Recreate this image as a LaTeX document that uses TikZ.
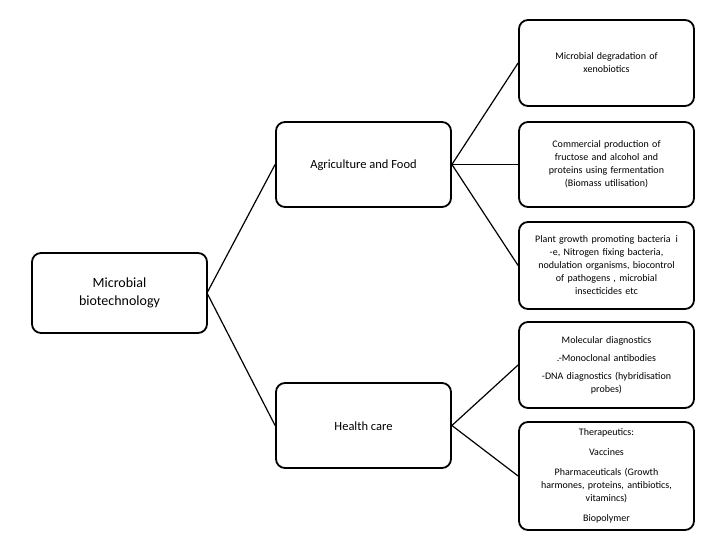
\documentclass[tikz,border=0pt]{standalone}
\usepackage{fontspec}
\setmainfont{Carlito}
\begin{document}
\begin{tikzpicture}[x=1pt,y=-1pt,
 bx/.style={draw,line width=1.8pt,rounded corners=9pt,minimum width=175pt,align=center,inner sep=3pt},
 sm/.style={font=\fontsize{10}{13}\selectfont,text width=165pt},
 ln/.style={line width=1.2pt}]
\path[use as bounding box] (0,0) rectangle (720,540);
\node[bx,minimum height=80pt,font=\fontsize{14}{18}\selectfont] (mb) at (119.5,293) {Microbial\\biotechnology};
\node[bx,minimum height=85pt] (ag) at (363.5,164.5) {};
\node[font=\fontsize{12.5}{15}\selectfont] (agt) at (363.5,165) {Agriculture and Food};
\node[bx,minimum height=85pt] (hc) at (363.5,425.5) {};
\node[font=\fontsize{12.5}{15}\selectfont] (hct) at (363.5,426) {Health care};
\node[bx,sm,minimum height=86pt] (r1) at (606.5,63) {Microbial degradation of\\xenobiotics};
\node[bx,sm,minimum height=85pt] (r2) at (606.5,164.5) {Commercial production of\\fructose and alcohol and\\proteins using fermentation\\(Biomass utilisation)};
\node[bx,sm,minimum height=87pt] (r3) at (606.5,265.5) {Plant growth promoting bacteria\enspace i\\-e, Nitrogen fixing bacteria,\\nodulation organisms, biocontrol\\of pathogens , microbial\\insecticides etc};
\node[bx,sm,minimum height=86pt,font=\fontsize{10}{18}\selectfont] (r4) at (606.5,365) {Molecular diagnostics\\.-Monoclonal antibodies\\-DNA diagnostics (hybridisation\\[-5pt]probes)};
\node[bx,sm,minimum height=108pt,font=\fontsize{10}{20}\selectfont] (r5) at (606.5,476) {Therapeutics:\\Vaccines\\Pharmaceuticals (Growth\\[-7pt]harmones, proteins, antibiotics,\\[-7pt]vitamincs)\\Biopolymer};
\coordinate (mbr) at (207,293);
\draw[ln] (mbr) -- (ag.west);
\draw[ln] (mbr) -- (hc.west);
\draw[ln] (ag.east) -- (r1.west);
\draw[ln] (ag.east) -- (r2.west);
\draw[ln] (ag.east) -- (r3.west);
\draw[ln] (hc.east) -- (r4.west);
\draw[ln] (hc.east) -- (r5.west);
\end{tikzpicture}
\end{document}
